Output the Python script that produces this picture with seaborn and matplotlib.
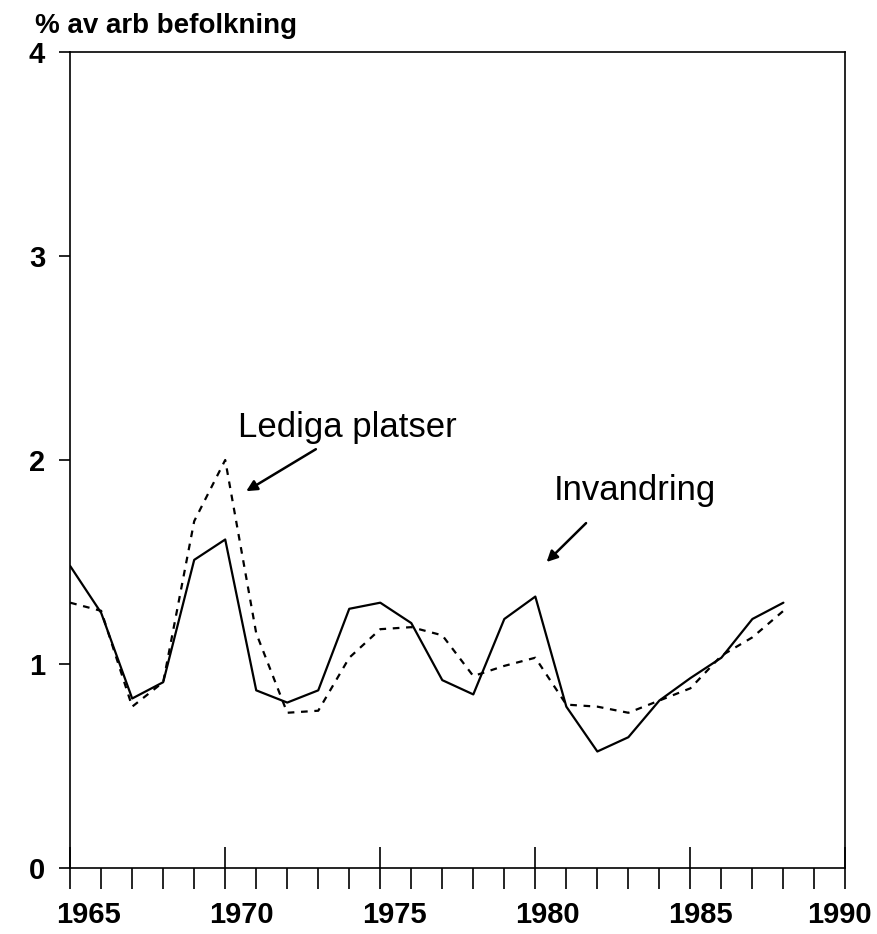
import numpy as np
import pandas as pd
import matplotlib
matplotlib.use('Agg')
import matplotlib.pyplot as plt
import matplotlib.transforms as mtransforms
import seaborn as sns

# Data
years = list(range(1965, 1989))
invandring = [1.48, 1.25, 0.83, 0.91, 1.51, 1.61, 0.87, 0.81, 0.87, 1.27, 1.30, 1.20,
              0.92, 0.85, 1.22, 1.33, 0.79, 0.57, 0.64, 0.82, 0.93, 1.03, 1.22, 1.30]
lediga_platser = [1.30, 1.26, 0.79, 0.91, 1.70, 2.00, 1.15, 0.76, 0.77, 1.03, 1.17, 1.18,
                  1.14, 0.94, 0.99, 1.03, 0.80, 0.79, 0.76, 0.82, 0.88, 1.04, 1.13, 1.26]
x_ticks = [1965, 1970, 1975, 1980, 1985, 1990]
y_ticks = [0, 1, 2, 3, 4]

df = pd.DataFrame({'year': years, 'invandring': invandring, 'lediga': lediga_platser})

sns.set_theme(style='white')
plt.rcParams['font.family'] = ['Liberation Sans', 'DejaVu Sans']
plt.rcParams['text.color'] = 'black'

fig = plt.figure(figsize=(8.77, 9.34), dpi=100)
ax = fig.add_axes([0.080, 0.071, 0.884, 0.873])

sns.lineplot(data=df, x='year', y='invandring', ax=ax, color='black', lw=1.6)
sns.lineplot(data=df, x='year', y='lediga', ax=ax, color='black', lw=1.6,
             linestyle=(0, (3, 3)))

ax.set_xlim(1965, 1990)
ax.set_ylim(0, 4)
ax.set_xlabel('')
ax.set_ylabel('')

for s in ax.spines.values():
    s.set_color('black')
    s.set_linewidth(1.2)

ax.set_yticks(y_ticks)
ax.set_yticklabels([str(v) for v in y_ticks], fontsize=21, fontweight='bold', color='black')
ax.tick_params(axis='y', direction='out', length=8, width=1.2, pad=10, left=True,
               colors='black')

ax.set_xticks(x_ticks)
ax.set_xticklabels([str(v) for v in x_ticks], fontsize=21, fontweight='bold', color='black')
ax.set_xticks(range(1965, 1991), minor=True)
ax.tick_params(axis='x', which='major', direction='inout', length=30, width=1.2,
               pad=9, bottom=True, colors='black')
ax.tick_params(axis='x', which='minor', direction='out', length=15, width=1.2,
               bottom=True, colors='black')
shifts = [0.18, 0.16, 0.14, 0.12, 0.10, -0.06]
for lbl, dx in zip(ax.get_xticklabels(), shifts):
    lbl.set_transform(lbl.get_transform() +
                      mtransforms.ScaledTranslation(dx, 0, fig.dpi_scale_trans))

fig.text(0.04, 0.972, '% av arb befolkning', fontsize=20, fontweight='bold',
         ha='left', va='center')

# Annotations
ax.text(1970.4, 2.16, 'Lediga platser', fontsize=25, ha='left', va='center')
ax.annotate('', xy=(1970.6, 1.84), xytext=(1973.0, 2.06),
            arrowprops=dict(arrowstyle='-|>', color='black', lw=1.8, mutation_scale=16))
ax.text(1980.6, 1.85, 'Invandring', fontsize=25, ha='left', va='center')
ax.annotate('', xy=(1980.3, 1.49), xytext=(1981.7, 1.70),
            arrowprops=dict(arrowstyle='-|>', color='black', lw=1.8, mutation_scale=16))

fig.savefig('out.png', dpi=100, facecolor='white')
